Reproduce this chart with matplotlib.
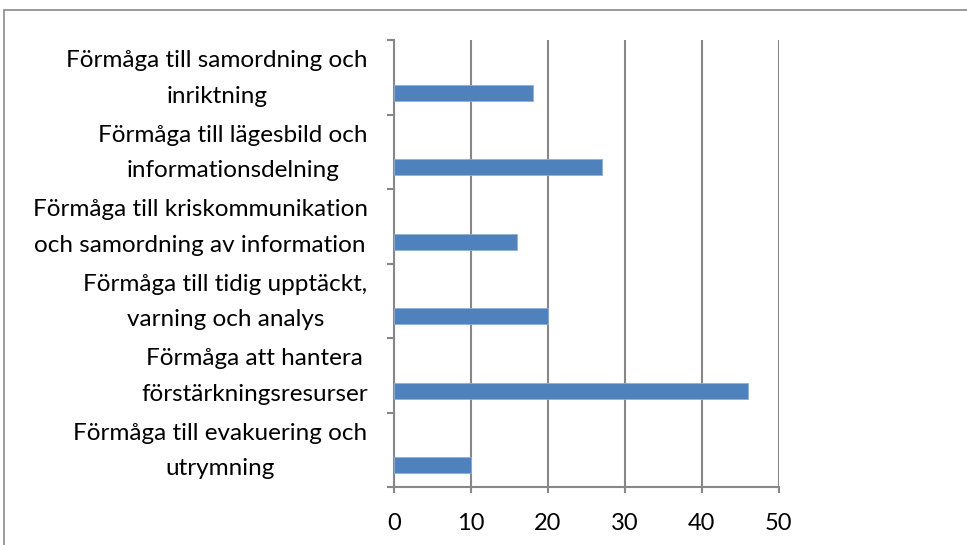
import matplotlib
matplotlib.use("Agg")
import matplotlib.pyplot as plt
import matplotlib.transforms as mtransforms
from matplotlib.patches import Rectangle
import numpy as np

plt.rcParams['font.family'] = ['Lato', 'DejaVu Sans']

categories = [
    "Förmåga till samordning och\ninriktning",
    "Förmåga till lägesbild och\ninformationsdelning",
    "Förmåga till kriskommunikation\noch samordning av information",
    "Förmåga till tidig upptäckt,\nvarning och analys",
    "Förmåga att hantera\nförstärkningsresurser",
    "Förmåga till evakuering och\nutrymning",
]
values = [18, 27, 16, 20, 46, 10]
xticks = [0, 10, 20, 30, 40, 50]

grey = '#878787'
fig = plt.figure(figsize=(9.67, 5.45), dpi=100)
ax = fig.add_axes([0.4074, 0.1064, 0.3981, 0.8202])

pos = np.arange(len(categories))
ax.barh(pos + 0.21, values, height=0.215, color='#4F81BD', edgecolor='#8DB0DA', linewidth=0.6, zorder=3)

ax.set_xlim(0, 50)
ax.set_ylim(len(categories) - 0.5, -0.5)
ax.set_xticks(xticks)
ax.set_xticklabels([str(t) for t in xticks], fontsize=17)
ax.grid(axis='x', color=grey, linewidth=1.5, zorder=0)

ax.set_yticks(pos)
ax.set_yticklabels(categories, fontsize=17.5, multialignment='center', linespacing=1.85)
ax.tick_params(axis='y', which='major', length=0, pad=19)
# nudge labels up a little so they sit centred on the band
shift = mtransforms.ScaledTranslation(0, 8 / 100, fig.dpi_scale_trans)
for lbl in ax.get_yticklabels():
    lbl.set_transform(lbl.get_transform() + shift)
ax.set_yticks(np.arange(len(categories) + 1) - 0.5, minor=True)
ax.tick_params(axis='y', which='minor', length=5, width=1.5, color=grey, direction='out')
ax.tick_params(axis='x', length=4, width=1.5, color=grey, pad=15)

for s in ['top', 'right']:
    ax.spines[s].set_visible(False)
for s in ['left', 'bottom']:
    ax.spines[s].set_color(grey)
    ax.spines[s].set_linewidth(1.5)

fig.patches.append(Rectangle((4 / 967, -0.1), 1.1, 1.1 - 10 / 545, transform=fig.transFigure,
                             fill=False, edgecolor='#8a8a8a', linewidth=1.2))

fig.savefig('out.png', dpi=100)
